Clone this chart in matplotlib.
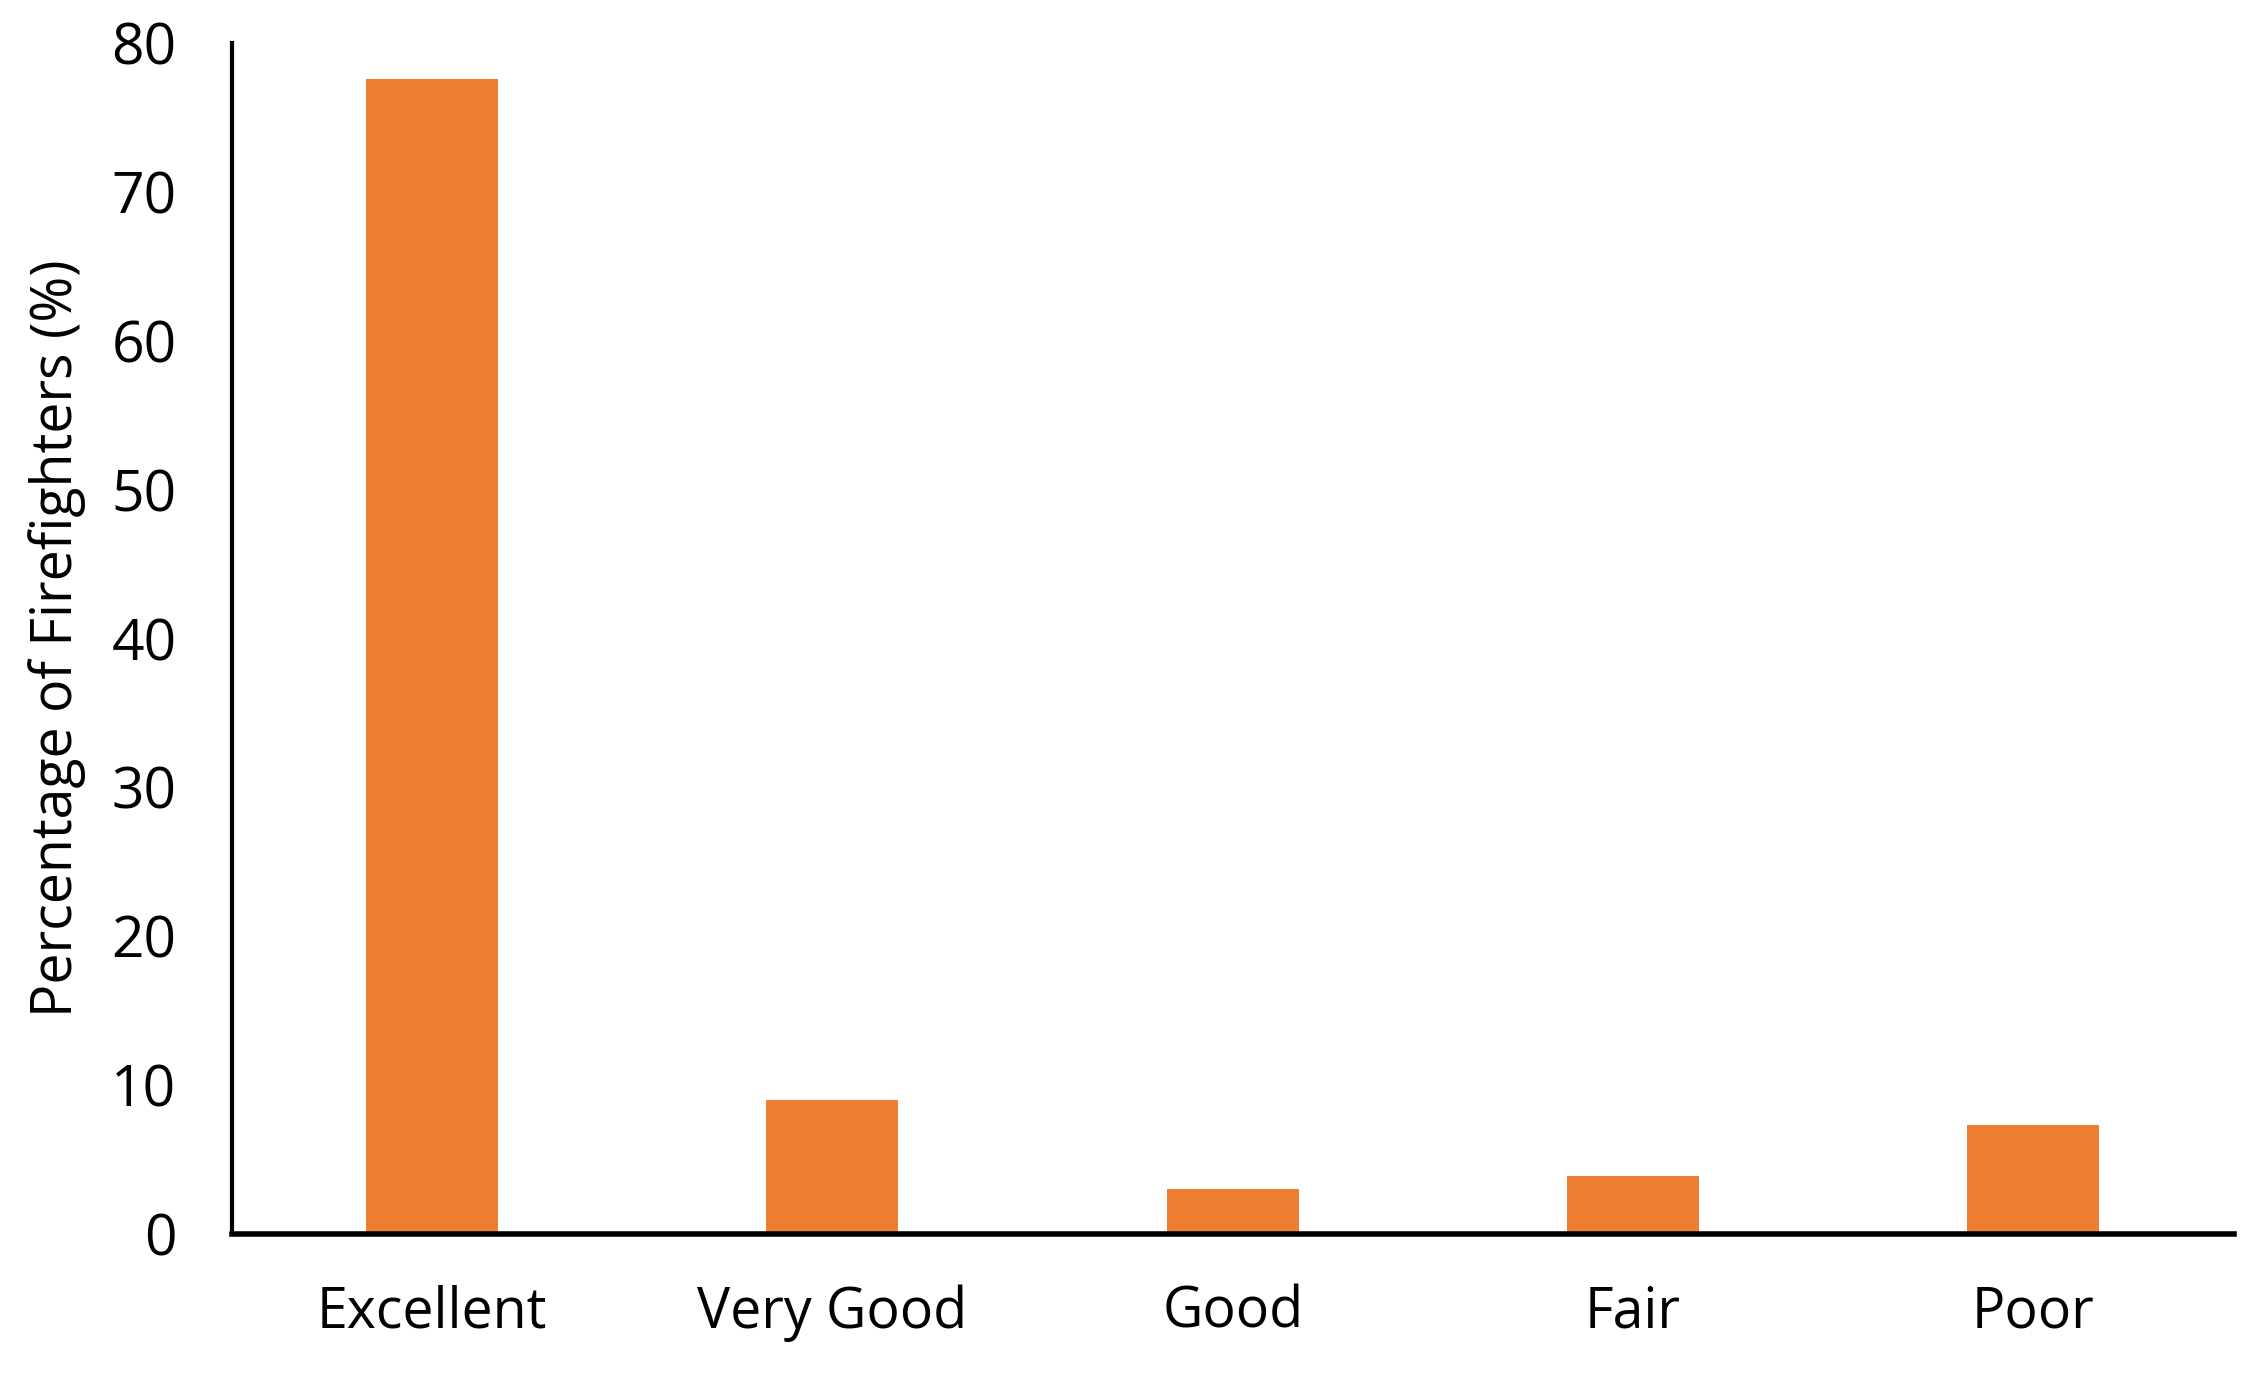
import matplotlib
matplotlib.use("Agg")
import matplotlib.pyplot as plt

# Data
categories = ["Excellent", "Very Good", "Good", "Fair", "Poor"]
percentages = [77.6, 9.0, 3.0, 3.9, 7.3]
y_ticks = [0, 10, 20, 30, 40, 50, 60, 70, 80]

plt.rcParams['font.family'] = ['Open Sans', 'DejaVu Sans']

fig = plt.figure(figsize=(22.63, 13.73), dpi=100)
ax = fig.add_axes([0.1025, 0.1012, 0.8845, 0.8675])

x = range(len(categories))
ax.bar(x, percentages, width=0.33, color="#ED7D31", zorder=2)

ax.set_xlim(-0.5, len(categories) - 0.5)
ax.set_ylim(0, 80)
ax.set_yticks(y_ticks)
ax.set_xticks(list(x))
ax.set_xticklabels(categories)

ax.tick_params(axis="y", length=0, pad=40, labelsize=41)
ax.tick_params(axis="x", length=0, pad=36, labelsize=40)

ax.set_ylabel("Percentage of Firefighters (%)", fontsize=40, labelpad=18)

for side in ["top", "right"]:
    ax.spines[side].set_visible(False)
ax.spines["left"].set_linewidth(3)
ax.spines["bottom"].set_linewidth(4)
ax.spines["left"].set_zorder(3)
ax.spines["bottom"].set_zorder(3)

fig.savefig("out.png", dpi=100)
